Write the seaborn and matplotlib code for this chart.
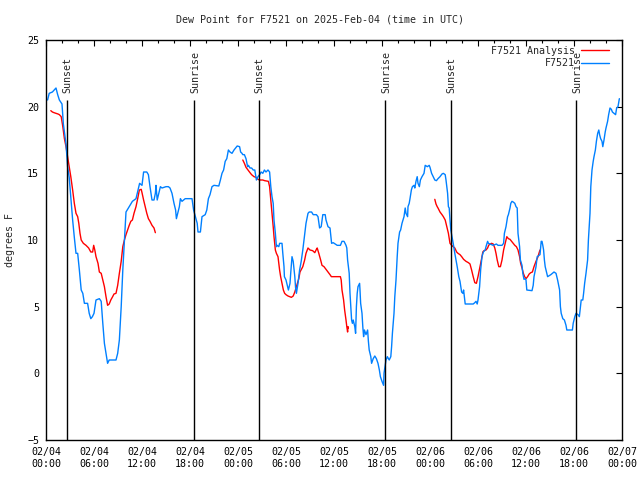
import matplotlib
matplotlib.use("Agg")
import matplotlib.pyplot as plt
import seaborn as sns
import pandas as pd

# --- Données (heures depuis 02/04 00:00 UTC, degrés F) ---
obs_hours = [
    0.2, 0.4, 0.8, 1.25, 1.46, 1.67, 2.0, 2.17, 2.5, 2.7, 2.9, 3.1, 3.33, 3.54, 3.75, 3.96,
    4.17, 4.4, 4.6, 4.8, 5.2, 5.4, 5.6, 5.8, 6.0, 6.25, 6.67, 6.9, 7.1, 7.3, 7.5, 7.7, 7.9,
    8.75, 8.96, 9.17, 9.4, 9.6, 9.8, 10.0, 10.4, 10.8, 11.25, 11.5, 11.7, 12.0,
    12.2, 12.6, 12.8, 13.0, 13.25, 13.5, 13.67, 13.75, 13.9, 14.1, 14.3, 14.5, 15.0, 15.3,
    15.5, 15.75, 16.0, 16.2, 16.3, 16.5, 16.67, 16.8, 17.0, 17.2, 17.4, 18.25, 18.45, 18.67,
    18.9, 19.0, 19.3, 19.5, 19.9, 20.1, 20.3, 20.5, 20.75, 21.0, 21.6, 21.8, 22.0, 22.2,
    22.4, 22.6, 22.8, 23.0, 23.25, 23.5, 23.7, 23.9,
    24.2, 24.33, 24.5, 24.6, 24.8, 25.0, 25.2, 25.3, 25.5, 25.7, 25.9, 26.1, 26.3, 26.5,
    26.7, 26.9, 27.1, 27.3, 27.5, 27.75, 27.95, 28.1, 28.25, 28.4, 28.5, 28.67, 28.8, 28.9,
    29.1, 29.2, 29.5, 29.6, 29.75, 29.8, 30.0, 30.2, 30.3, 30.5, 30.6, 30.75, 30.9, 31.1,
    31.2, 31.3, 31.5, 31.7, 31.9, 32.1, 32.3, 32.5, 32.75, 32.9, 33.2, 33.4, 33.8, 34.0,
    34.2, 34.4, 34.6, 34.9, 35.0, 35.25, 35.5, 35.7, 35.9,
    36.4, 36.8, 37.0, 37.25, 37.5, 37.6, 37.7, 37.9, 38.0, 38.1, 38.2, 38.3, 38.4, 38.6,
    38.7, 38.8, 38.9, 39.0, 39.2, 39.25, 39.33, 39.5, 39.6, 39.7, 39.8, 40.0, 40.2, 40.3,
    40.4, 40.6, 40.7, 40.9, 41.1, 41.3, 41.5, 41.67, 41.8, 42.0, 42.2, 42.25, 42.5, 42.67,
    42.9, 43.1, 43.2, 43.3, 43.5, 43.6, 43.75, 43.9, 44.0, 44.2, 44.33, 44.5, 44.75, 44.9,
    45.0, 45.2, 45.25, 45.4, 45.5, 45.67, 45.8, 46.0, 46.1, 46.25, 46.4, 46.5, 46.67, 46.8,
    47.0, 47.25, 47.4, 47.67, 47.9,
    48.0, 48.2, 48.4, 48.6, 48.8, 49.0, 49.25, 49.5, 49.67, 49.9, 50.0, 50.2, 50.3, 50.4,
    50.5, 50.6, 50.75, 50.9, 51.1, 51.25, 51.4, 51.6, 51.75, 51.95, 52.1, 52.2, 52.3, 52.4,
    53.0, 53.4, 53.6, 53.75, 53.9, 54.0, 54.2, 54.33, 54.5, 54.67, 54.9, 55.0, 55.2, 55.3,
    55.5, 55.9, 56.3, 56.5, 57.0, 57.2, 57.3, 57.5, 57.6, 57.7, 57.8, 58.0, 58.1, 58.25,
    58.4, 58.6, 58.75, 58.9, 59.0, 59.2, 59.3, 59.5, 59.6, 59.75, 59.9,
    60.0, 60.1, 60.75, 60.9, 61.0, 61.25, 61.4, 61.75, 61.9, 62.0, 62.1, 62.2, 62.3, 62.4,
    62.6, 62.7, 63.1, 63.5, 63.75, 63.95, 64.2, 64.3, 64.4, 64.6, 64.8, 65.0, 65.1, 65.8,
    65.9, 66.1, 66.25, 66.5, 66.67, 66.8, 66.9, 67.1, 67.2, 67.33, 67.5, 67.7, 67.8, 68.0,
    68.1, 68.25, 68.4, 68.5, 68.67, 68.8, 68.96, 69.1, 69.2, 69.33, 69.5, 69.6, 69.75, 69.9,
    70.0, 70.2, 70.33, 70.5, 70.67, 70.8, 71.0, 71.2, 71.33, 71.5, 71.67,
]
obs_dewpt = [
    20.5, 21.0, 21.1, 21.4, 20.9, 20.5, 20.2, 18.7, 17.2, 15.5, 14.7, 13.2, 11.5, 10.2, 9.0, 9.0,
    7.75, 6.25, 6.0, 5.25, 5.25, 4.5, 4.1, 4.25, 4.5, 5.5, 5.6, 5.4, 3.75, 2.25, 1.5, 0.75, 1.0,
    1.0, 1.5, 2.5, 5.0, 7.75, 10.0, 12.1, 12.5, 12.9, 13.1, 13.75, 14.25, 14.1,
    15.1, 15.1, 14.9, 14.0, 13.0, 13.0, 13.5, 14.1, 13.0, 13.5, 14.0, 13.9, 14.0, 14.0,
    13.9, 13.5, 12.75, 12.25, 11.6, 12.1, 12.5, 13.1, 12.9, 13.0, 13.1, 13.1, 12.25, 11.75,
    11.25, 10.6, 10.6, 11.75, 11.9, 12.25, 13.1, 13.4, 14.0, 14.1, 14.05, 14.5, 15.0, 15.25,
    15.9, 16.1, 16.75, 16.6, 16.5, 16.75, 16.9, 17.05,
    17.0, 16.6, 16.5, 16.4, 16.4, 16.1, 15.5, 15.6, 15.4, 15.4, 15.25, 15.25, 14.5, 14.75,
    14.9, 15.1, 15.0, 15.25, 15.1, 15.25, 15.1, 14.0, 13.25, 12.75, 11.5, 10.5, 9.5, 9.6,
    9.5, 9.75, 9.75, 9.0, 8.0, 7.25, 7.0, 6.5, 6.25, 6.75, 7.6, 8.75, 8.4, 7.25,
    6.4, 6.0, 6.75, 7.75, 8.4, 9.25, 10.25, 11.25, 12.0, 12.1, 12.1, 11.9, 11.9, 11.75,
    10.9, 11.0, 11.9, 11.9, 11.5, 11.0, 10.9, 9.75, 9.8,
    9.6, 9.6, 9.9, 9.9, 9.6, 9.4, 8.5, 7.5, 6.0, 5.0, 4.0, 3.75, 4.0, 3.5,
    3.0, 5.0, 6.0, 6.5, 6.75, 6.25, 5.25, 4.5, 3.5, 2.75, 3.25, 2.9, 3.25, 2.4,
    1.75, 1.25, 0.75, 1.1, 1.3, 1.1, 0.75, 0.25, -0.25, -0.6, -0.9, 0.0, 1.0, 1.25,
    1.0, 1.25, 2.0, 3.0, 4.5, 5.75, 7.0, 8.75, 9.75, 10.6, 10.75, 11.25, 11.75, 12.4,
    12.0, 11.75, 12.5, 12.75, 13.1, 13.75, 14.0, 14.1, 13.9, 14.4, 14.75, 14.25, 14.0, 14.5,
    14.75, 15.0, 15.6, 15.5, 15.6,
    15.45, 15.0, 14.75, 14.5, 14.45, 14.6, 14.75, 14.95, 15.0, 14.9, 14.5, 13.5, 12.5, 12.4,
    11.5, 10.75, 10.25, 9.75, 9.0, 8.5, 8.0, 7.25, 6.9, 6.1, 6.0, 6.25, 5.75, 5.2,
    5.2, 5.2, 5.3, 5.4, 5.2, 5.5, 6.5, 7.75, 8.75, 9.1, 9.25, 9.5, 9.9, 9.75,
    9.7, 9.6, 9.7, 9.6, 9.6, 9.75, 10.5, 11.0, 11.4, 11.75, 11.9, 12.4, 12.75, 12.9,
    12.85, 12.75, 12.5, 12.4, 10.5, 9.5, 8.5, 8.1, 7.5, 7.05, 7.1,
    7.0, 6.25, 6.2, 6.6, 7.25, 8.0, 8.75, 8.9, 9.9, 9.9, 9.6, 9.25, 8.5, 8.0,
    7.5, 7.25, 7.4, 7.6, 7.5, 7.0, 6.25, 5.0, 4.5, 4.1, 4.0, 3.6, 3.25, 3.25,
    3.75, 4.25, 4.5, 4.4, 4.25, 5.0, 5.5, 5.5, 6.0, 6.75, 7.5, 8.5, 10.0, 12.0,
    14.0, 15.25, 15.9, 16.25, 16.75, 17.4, 18.0, 18.25, 17.9, 17.6, 17.4, 17.0, 17.5, 18.1,
    18.4, 18.9, 19.4, 19.9, 19.8, 19.6, 19.5, 19.4, 19.9, 20.0, 20.6,
]

# Analyse : trois segments séparés
ana_hours_1 = [0.6, 0.8, 1.0, 1.25, 1.5, 1.67, 1.9, 2.1, 2.3, 2.5, 2.7, 2.9, 3.1, 3.33, 3.54,
               3.75, 3.96, 4.1, 4.25, 4.4, 4.67, 5.0, 5.33, 5.6, 5.83, 5.96, 6.1, 6.25, 6.5,
               6.67, 6.9, 7.1, 7.3, 7.5, 7.7, 7.9, 8.1, 8.33, 8.5, 8.75, 8.96, 9.17, 9.4, 9.6,
               9.8, 10.0, 10.2, 10.4, 10.6, 10.8, 11.0, 11.25, 11.46, 11.67, 11.9, 12.0, 12.2,
               12.4, 12.6, 12.8, 13.0, 13.25, 13.5, 13.67]
ana_dewpt_1 = [19.7, 19.6, 19.55, 19.5, 19.45, 19.4, 19.25, 18.5, 17.6, 17.0, 16.25, 15.5, 14.75,
               13.75, 12.75, 12.0, 11.75, 11.25, 10.5, 10.0, 9.75, 9.6, 9.4, 9.1, 9.1, 9.6, 9.25,
               8.75, 8.25, 7.6, 7.5, 7.0, 6.5, 5.75, 5.1, 5.2, 5.5, 5.75, 5.95, 6.0, 6.6, 7.5,
               8.4, 9.5, 10.0, 10.4, 10.75, 11.1, 11.4, 11.5, 12.0, 12.5, 13.1, 13.75, 13.8,
               13.55, 13.0, 12.5, 12.0, 11.6, 11.4, 11.1, 10.9, 10.55]
ana_hours_2 = [24.6, 24.8, 25.0, 25.25, 25.5, 25.7, 26.0, 26.25, 26.5, 26.7, 27.1, 27.33, 27.8,
               27.95, 28.1, 28.25, 28.4, 28.5, 28.67, 28.8, 29.0, 29.2, 29.33, 29.5, 29.67,
               29.83, 30.0, 30.25, 30.67, 30.9, 31.1, 31.3, 31.6, 31.75, 32.1, 32.33, 32.5,
               32.75, 33.0, 33.33, 33.6, 33.8, 33.9, 34.1, 34.33, 34.5, 34.75, 35.0, 35.25,
               35.5, 35.67, 36.0, 36.8, 36.9, 37.0, 37.2, 37.33, 37.5, 37.6, 37.7, 37.75, 37.8]
ana_dewpt_2 = [16.0, 15.75, 15.45, 15.25, 15.05, 14.9, 14.75, 14.7, 14.55, 14.5, 14.5, 14.45,
               14.4, 14.0, 13.0, 12.0, 11.0, 10.25, 9.25, 9.0, 8.75, 7.75, 7.25, 6.75, 6.25,
               6.0, 5.9, 5.8, 5.7, 5.8, 6.1, 6.5, 7.1, 7.6, 8.0, 8.5, 9.0, 9.4, 9.25, 9.2,
               9.05, 9.3, 9.4, 9.0, 8.5, 8.1, 8.0, 7.8, 7.6, 7.4, 7.25, 7.25, 7.25, 7.0, 6.25,
               5.5, 4.75, 4.0, 3.5, 3.1, 3.5, 3.4]
ana_hours_3 = [48.6, 48.75, 48.9, 49.0, 49.25, 49.5, 49.67, 49.9, 50.1, 50.3, 50.5, 50.7, 50.9,
               51.1, 51.33, 51.5, 51.75, 51.96, 52.2, 52.5, 52.8, 53.0, 53.2, 53.4, 53.6, 53.8,
               54.0, 54.25, 54.5, 54.6, 54.75, 55.0, 55.2, 55.33, 55.5, 55.7, 55.9, 56.1,
               56.25, 56.4, 56.6, 56.8, 57.0, 57.2, 57.4, 57.6, 57.8, 58.0, 58.2, 58.4, 58.6,
               58.8, 59.0, 59.2, 59.33, 59.5, 59.67, 59.83, 60.0, 60.2, 60.4, 60.6, 60.8, 61.0,
               61.25, 61.5, 61.67, 61.75]
ana_dewpt_3 = [13.05, 12.7, 12.5, 12.4, 12.1, 11.9, 11.75, 11.5, 11.0, 10.5, 9.75, 9.6, 9.5,
               9.4, 9.1, 9.0, 8.9, 8.75, 8.55, 8.4, 8.3, 8.2, 7.75, 7.25, 6.8, 6.75, 7.25, 8.0,
               8.75, 9.1, 9.2, 9.25, 9.4, 9.6, 9.7, 9.75, 9.7, 9.4, 9.0, 8.5, 8.0, 8.0, 8.5,
               9.25, 9.75, 10.25, 10.1, 10.05, 9.9, 9.75, 9.6, 9.5, 9.25, 8.75, 8.25, 7.9, 7.5,
               7.25, 7.1, 7.25, 7.45, 7.55, 7.6, 8.0, 8.4, 8.75, 9.1, 9.25]

sun_hours = [2.58, 18.54, 26.58, 42.41, 50.6, 66.29]
sun_labels = ["Sunset", "Sunrise", "Sunset", "Sunrise", "Sunset", "Sunrise"]

tick_hours = list(range(0, 73, 6))
tick_labels = ["02/04\n00:00", "02/04\n06:00", "02/04\n12:00", "02/04\n18:00",
               "02/05\n00:00", "02/05\n06:00", "02/05\n12:00", "02/05\n18:00",
               "02/06\n00:00", "02/06\n06:00", "02/06\n12:00", "02/06\n18:00",
               "02/07\n00:00"]
y_ticks = [-5, 0, 5, 10, 15, 20, 25]

RED = "#ff0000"
BLUE = "#0080ff"
FS = 7.2

sns.set_theme(style="white")
plt.rcParams["font.family"] = ["DejaVu Sans Mono", "DejaVu Sans"]

obs = pd.DataFrame({"hours": obs_hours, "dewpt": obs_dewpt})
segments = [(ana_hours_1, ana_dewpt_1), (ana_hours_2, ana_dewpt_2), (ana_hours_3, ana_dewpt_3)]

fig = plt.figure(figsize=(6.4, 4.8), dpi=100)
ax = fig.add_axes([46 / 640, 40 / 480, 576 / 640, 400 / 480])

# Analyse d'abord (rouge), puis observations (bleu)
for i, (h, d) in enumerate(segments):
    seg = pd.DataFrame({"hours": h, "dewpt": d})
    sns.lineplot(data=seg, x="hours", y="dewpt", ax=ax, color=RED, lw=1.0,
                 estimator=None, label="F7521 Analysis" if i == 0 else None)
sns.lineplot(data=obs, x="hours", y="dewpt", ax=ax, color=BLUE, lw=1.0,
             estimator=None, label="F7521")

# Lever / coucher du soleil
ax.vlines(sun_hours, -5, 20.5, color="black", lw=1.0, zorder=3)
for h, lab in zip(sun_hours, sun_labels):
    ax.text(h + 0.08, 21.05, lab, rotation=90, ha="center", va="bottom", fontsize=FS)

ax.set_xlim(0, 72)
ax.set_ylim(-5, 25)
ax.set_xticks(tick_hours)
ax.set_xticklabels(tick_labels)
ax.set_xticks(list(range(0, 73, 2)), minor=True)
ax.set_yticks(y_ticks)
ax.set_xlabel("")
ax.set_ylabel("")

ax.tick_params(which="both", direction="in", top=True, right=True, colors="black",
               labelsize=FS)
ax.tick_params(which="major", length=4.5, width=0.8, pad=5)
ax.tick_params(which="minor", length=2.5, width=0.8)
for s in ax.spines.values():
    s.set_color("black")
    s.set_linewidth(1.0)

handles, labels = ax.get_legend_handles_labels()
ax.legend(handles, labels, loc="upper right", bbox_to_anchor=(0.977, 0.985),
          frameon=False, markerfirst=False, fontsize=FS, handlelength=2.8,
          handletextpad=0.6, labelspacing=0.25, borderaxespad=0, borderpad=0)

fig.text(0.5, 1 - 19 / 480, "Dew Point for F7521 on 2025-Feb-04 (time in UTC)",
         ha="center", va="center", fontsize=FS)
fig.text(10 / 640, 0.5, "degrees F", rotation=90, ha="center", va="center", fontsize=FS)

fig.savefig("out.png", dpi=100)
